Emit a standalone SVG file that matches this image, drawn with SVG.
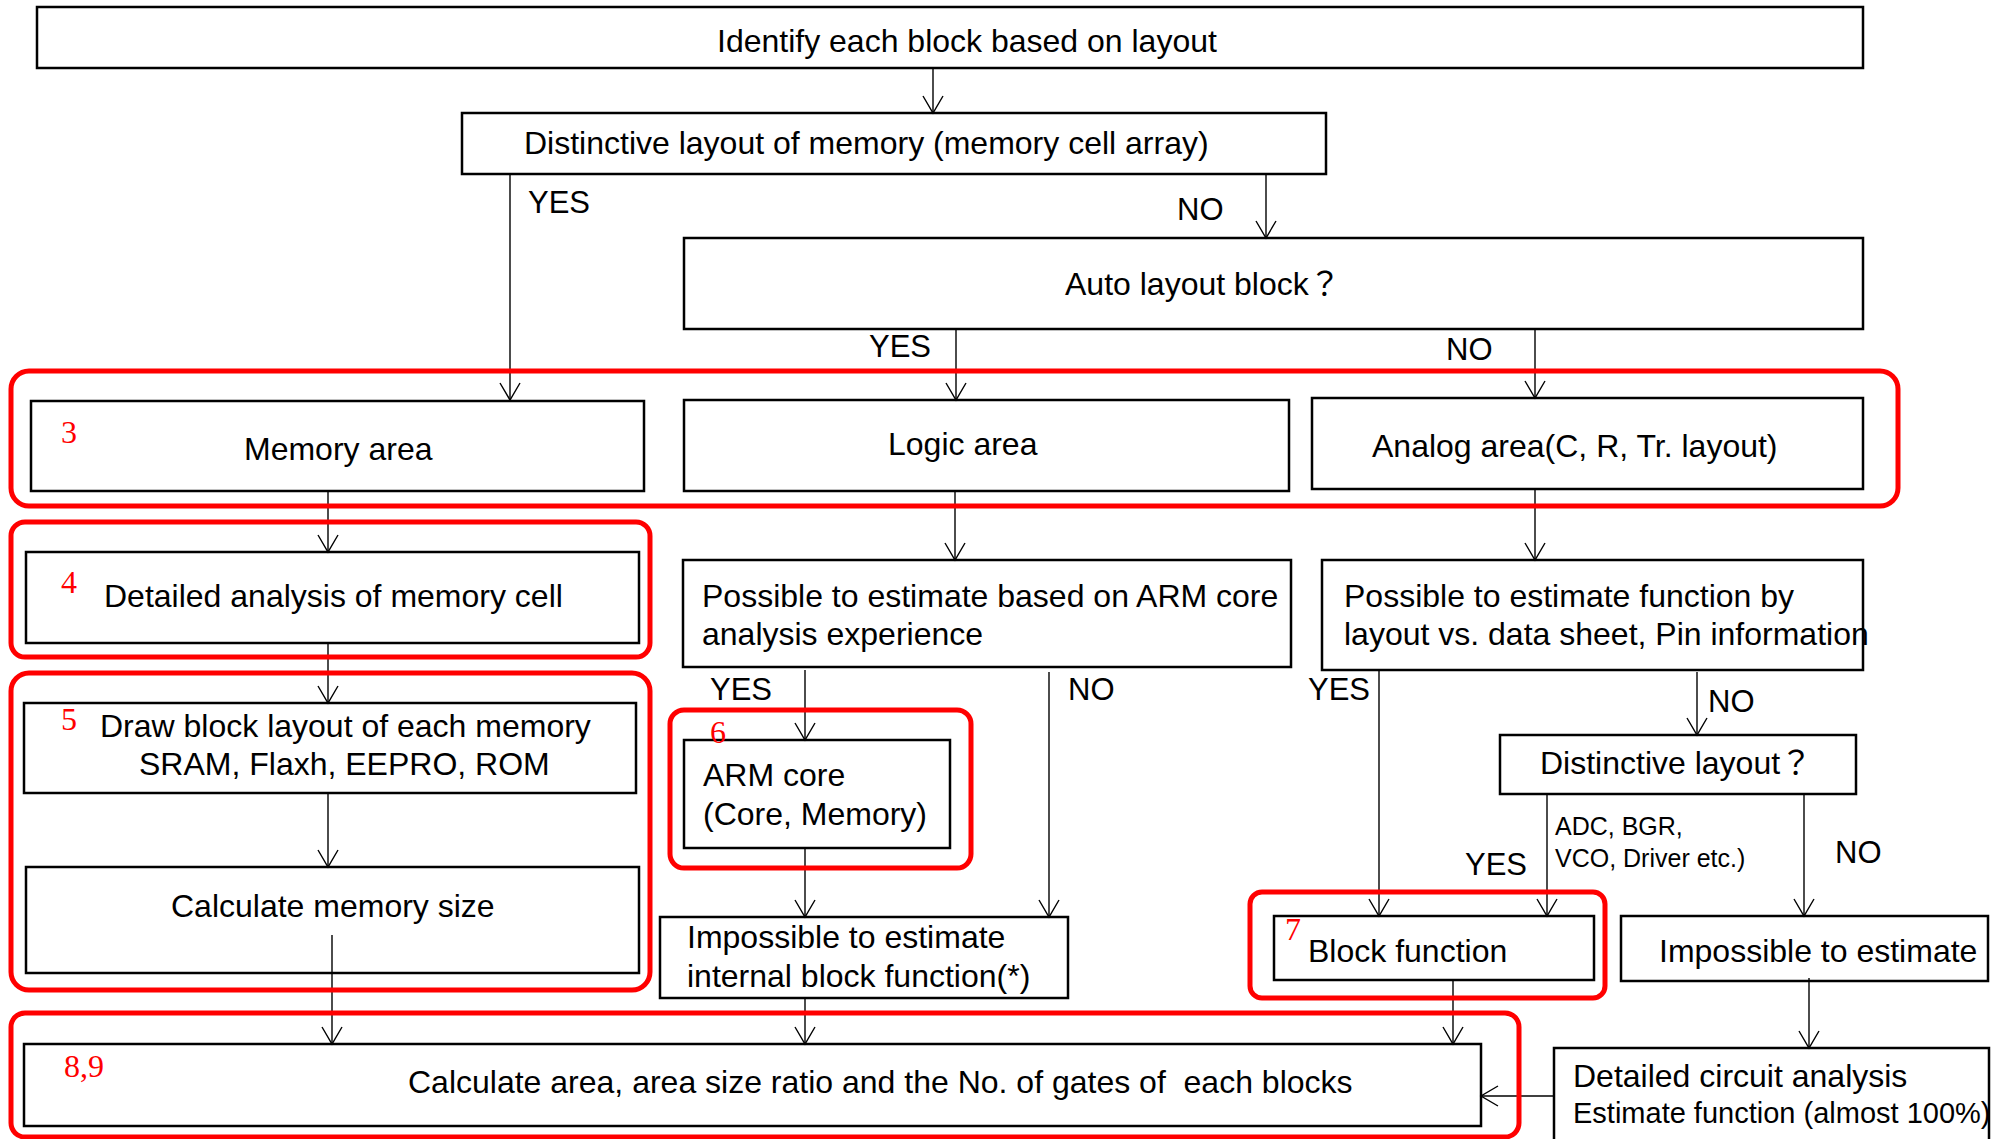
<svg xmlns="http://www.w3.org/2000/svg" width="1993" height="1139" viewBox="0 0 1993 1139">
<defs>
<style>
.box{fill:#fff;stroke:#000;stroke-width:2.5}
.red{fill:none;stroke:#f00;stroke-width:5}
.con{fill:none;stroke:#000;stroke-width:1.4}
.t{font-family:"Liberation Sans",Arial,"Noto Sans CJK JP",sans-serif;font-size:32px;fill:#000;white-space:pre}
.lb{font-family:"Liberation Sans",Arial,sans-serif;font-size:31px;fill:#000}
.sm{font-family:"Liberation Sans",Arial,sans-serif;font-size:25px;fill:#000}
.num{font-family:"Liberation Serif","Times New Roman",serif;font-size:32px;fill:#f00}
</style>
<marker id="ah" markerUnits="userSpaceOnUse" markerWidth="22" markerHeight="24" refX="18" refY="11" orient="auto">
<path d="M1,1 L18,11 L1,21" fill="none" stroke="#000" stroke-width="1.4"/>
</marker>
</defs>
<rect width="1993" height="1139" fill="#fff"/>

<g id="n-identify"><rect class="box" x="37" y="7" width="1826" height="61"/><text class="t" x="717" y="52">Identify each block based on layout</text></g>
<g id="n-distinct-mem"><rect class="box" x="462" y="113" width="864" height="61"/><text class="t" x="524" y="154">Distinctive layout of memory (memory cell array)</text></g>
<g id="n-auto"><rect class="box" x="684" y="238" width="1179" height="91"/><text class="t" x="1065" y="295">Auto layout block？</text></g>
<g id="n-memory"><rect class="box" x="31" y="401" width="613" height="90"/><text class="t" x="244" y="460">Memory area</text></g>
<g id="n-logic"><rect class="box" x="684" y="400" width="605" height="91"/><text class="t" x="888" y="455">Logic area</text></g>
<g id="n-analog"><rect class="box" x="1312" y="398" width="551" height="91"/><text class="t" x="1372" y="457">Analog area(C, R, Tr. layout)</text></g>
<g id="n-detailed-mem"><rect class="box" x="26" y="552" width="613" height="91"/><text class="t" x="104" y="607">Detailed analysis of memory cell</text></g>
<g id="n-possible-arm"><rect class="box" x="683" y="560" width="608" height="107"/><text class="t" x="702" y="607">Possible to estimate based on ARM core</text><text class="t" x="702" y="645">analysis experience</text></g>
<g id="n-possible-fn"><rect class="box" x="1322" y="560" width="541" height="110"/><text class="t" x="1344" y="607">Possible to estimate function by</text><text class="t" x="1344" y="645">layout vs. data sheet, Pin information</text></g>
<g id="n-draw"><rect class="box" x="24" y="703" width="612" height="90"/><text class="t" x="100" y="737">Draw block layout of each memory</text><text class="t" x="139" y="775">SRAM, Flaxh, EEPRO, ROM</text></g>
<g id="n-arm"><rect class="box" x="684" y="740" width="266" height="108"/><text class="t" x="703" y="786">ARM core</text><text class="t" x="703" y="825">(Core, Memory)</text></g>
<g id="n-distinct"><rect class="box" x="1500" y="735" width="356" height="59"/><text class="t" x="1540" y="774">Distinctive layout？</text></g>
<g id="n-calcmem"><rect class="box" x="26" y="867" width="613" height="106"/><text class="t" x="171" y="917">Calculate memory size</text></g>
<g id="n-impossible-int"><rect class="box" x="660" y="917" width="408" height="81"/><text class="t" x="687" y="948">Impossible to estimate</text><text class="t" x="687" y="987">internal block function(*)</text></g>
<g id="n-blockfn"><rect class="box" x="1274" y="916" width="320" height="64"/><text class="t" x="1308" y="962">Block function</text></g>
<g id="n-impossible"><rect class="box" x="1621" y="916" width="367" height="65"/><text class="t" x="1659" y="962">Impossible to estimate</text></g>
<g id="n-calcarea"><rect class="box" x="24" y="1044" width="1457" height="82"/><text class="t" x="408" y="1093">Calculate area, area size ratio and the No. of gates of  each blocks</text></g>
<g id="n-circuit"><rect class="box" x="1554" y="1048" width="435" height="120"/><text class="t" x="1573" y="1087">Detailed circuit analysis</text><text class="t" x="1573" y="1123" style="font-size:29px">Estimate function (almost 100%)</text></g>

<g id="connectors">
<path class="con" d="M933,68 V113" marker-end="url(#ah)"/>
<path class="con" d="M510,174 V400" marker-end="url(#ah)"/>
<path class="con" d="M1266,174 V238" marker-end="url(#ah)"/>
<path class="con" d="M956,329 V400" marker-end="url(#ah)"/>
<path class="con" d="M1535,329 V398" marker-end="url(#ah)"/>
<path class="con" d="M328,491 V552" marker-end="url(#ah)"/>
<path class="con" d="M328,643 V703" marker-end="url(#ah)"/>
<path class="con" d="M328,793 V867" marker-end="url(#ah)"/>
<path class="con" d="M332,935 V1044" marker-end="url(#ah)"/>
<path class="con" d="M955,491 V560" marker-end="url(#ah)"/>
<path class="con" d="M805,670 V740" marker-end="url(#ah)"/>
<path class="con" d="M1049,672 V917" marker-end="url(#ah)"/>
<path class="con" d="M805,848 V917" marker-end="url(#ah)"/>
<path class="con" d="M805,998 V1044" marker-end="url(#ah)"/>
<path class="con" d="M1535,489 V560" marker-end="url(#ah)"/>
<path class="con" d="M1379,671 V916" marker-end="url(#ah)"/>
<path class="con" d="M1697,672 V735" marker-end="url(#ah)"/>
<path class="con" d="M1547,794 V916" marker-end="url(#ah)"/>
<path class="con" d="M1804,794 V916" marker-end="url(#ah)"/>
<path class="con" d="M1453,980 V1044" marker-end="url(#ah)"/>
<path class="con" d="M1809,978 V1048" marker-end="url(#ah)"/>
<path class="con" d="M1554,1096 H1481" marker-end="url(#ah)"/>
<text class="lb" x="528" y="213">YES</text>
<text class="lb" x="1177" y="220">NO</text>
<text class="lb" x="869" y="357">YES</text>
<text class="lb" x="1446" y="360">NO</text>
<text class="lb" x="710" y="700">YES</text>
<text class="lb" x="1068" y="700">NO</text>
<text class="lb" x="1308" y="700">YES</text>
<text class="lb" x="1708" y="712">NO</text>
<text class="sm" x="1555" y="835">ADC, BGR,</text>
<text class="sm" x="1555" y="867">VCO, Driver etc.)</text>
<text class="lb" x="1465" y="875">YES</text>
<text class="lb" x="1835" y="863">NO</text>
</g>

<g id="groups">
<rect class="red" x="11" y="371" width="1887" height="135" rx="18"/>
<rect class="red" x="11" y="522" width="639" height="135" rx="14"/>
<rect class="red" x="11" y="673" width="639" height="317" rx="18"/>
<rect class="red" x="670" y="710" width="301" height="158" rx="14"/>
<rect class="red" x="1250" y="892" width="355" height="106" rx="12"/>
<rect class="red" x="11" y="1013" width="1508" height="124" rx="14"/>
<text class="num" x="61" y="443">3</text>
<text class="num" x="61" y="593">4</text>
<text class="num" x="61" y="730">5</text>
<text class="num" x="710" y="743">6</text>
<text class="num" x="1285" y="940">7</text>
<text class="num" x="64" y="1077">8,9</text>
</g>
</svg>
